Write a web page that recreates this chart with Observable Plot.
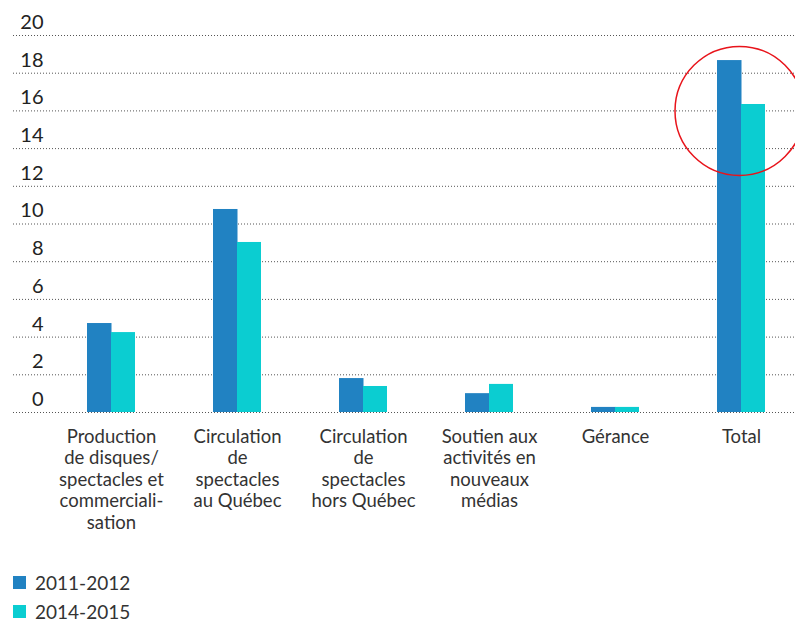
<!DOCTYPE html>
<html>
<head>
<meta charset="utf-8">
<script src="https://cdn.jsdelivr.net/npm/d3@7"></script>
<script src="https://cdn.jsdelivr.net/npm/@observablehq/plot@0.6"></script>
<style>
  html, body { margin: 0; padding: 0; background: #fff; }
  body { width: 795px; font-family: Lato, "Open Sans", sans-serif; }
  #chart svg { display: block; }
  #legend { margin-left: 13px; padding-top: 23px; }
  .row { display: flex; align-items: center; height: 29px; font-size: 19px; color: #333; }
  .sw { width: 13px; height: 13px; margin-right: 9px; }
</style>
</head>
<body>
<div id="chart"></div>
<div id="legend"></div>
<script>
const categories = [
  "Production de disques/spectacles et commercialisation",
  "Circulation de spectacles au Québec",
  "Circulation de spectacles hors Québec",
  "Soutien aux activités en nouveaux médias",
  "Gérance",
  "Total"
];
const tickLabels = [
  "Production\nde disques/\nspectacles et\ncommerciali-\nsation",
  "Circulation\nde\nspectacles\nau Québec",
  "Circulation\nde\nspectacles\nhors Québec",
  "Soutien aux\nactivités en\nnouveaux\nmédias",
  "Gérance",
  "Total"
];
const series = ["2011-2012", "2014-2015"];
const colors = ["#2182c2", "#0bcdd1"];
const values2011 = [4.72, 10.77, 1.80, 1.00, 0.27, 18.67];
const values2014 = [4.24, 9.02, 1.38, 1.49, 0.27, 16.34];
const yTicks = [0, 2, 4, 6, 8, 10, 12, 14, 16, 18, 20];
const highlight = [{category: "Total", value: 16.0}];

const labelOf = new Map(categories.map((c, i) => [c, tickLabels[i]]));
const d2011 = categories.map((c, i) => ({category: c, value: values2011[i]}));
const d2014 = categories.map((c, i) => ({category: c, value: values2014[i]}));

const chart = Plot.plot({
  width: 795,
  height: 545,
  marginLeft: 13,
  marginRight: 0,
  marginTop: 35,
  marginBottom: 133,
  style: {fontFamily: "Lato, 'Open Sans', sans-serif", background: "#fff"},
  x: {domain: categories, range: [85.5, 765.5], paddingInner: 0.62, paddingOuter: 0, label: null},
  y: {domain: [0, 20], label: null},
  marks: [
    Plot.ruleY(yTicks, {stroke: "#555", strokeDasharray: "1,2", strokeWidth: 1}),
    Plot.barY(d2011, {x: "category", y: "value", fill: colors[0], insetRight: 23.5}),
    Plot.barY(d2014, {x: "category", y: "value", fill: colors[1], insetLeft: 24}),
    Plot.dot(highlight, {x: "category", y: "value", r: 64.5, dx: -2, stroke: "#e8141b", strokeWidth: 1.5, fill: "none"}),
    Plot.axisY({ticks: yTicks, tickSize: 0, tickPadding: 0, dx: 30, dy: -13, fontSize: 20, textAnchor: "end", fill: "#222"}),
    Plot.axisX({tickSize: 0, tickPadding: 15, fontSize: 18.5, lineHeight: 1.16, fill: "#333", tickFormat: d => labelOf.get(d)})
  ]
});
document.getElementById("chart").appendChild(chart);

const legend = document.getElementById("legend");
series.forEach((s, i) => {
  const row = document.createElement("div");
  row.className = "row";
  const sw = document.createElement("div");
  sw.className = "sw";
  sw.style.background = colors[i];
  row.appendChild(sw);
  row.appendChild(document.createTextNode(s));
  legend.appendChild(row);
});
</script>
</body>
</html>
